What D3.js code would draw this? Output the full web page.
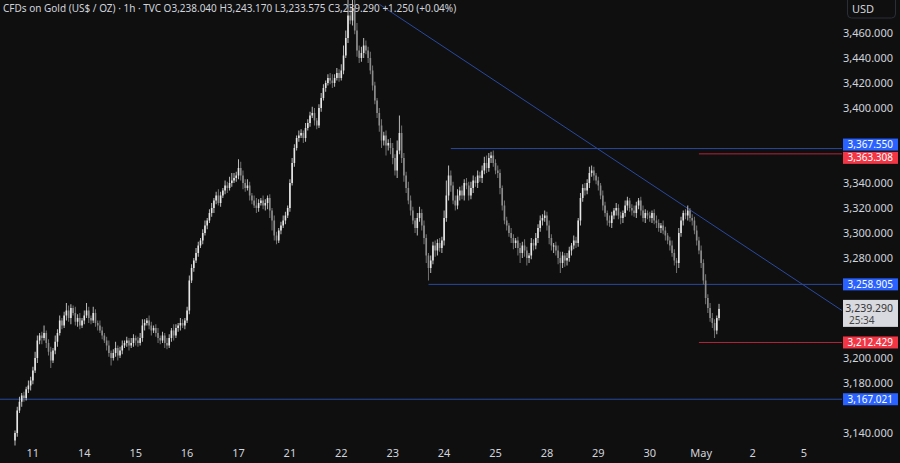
<!DOCTYPE html><html><head><meta charset="utf-8"><script src="https://cdn.jsdelivr.net/npm/d3@7"></script>
<style>body{margin:0;background:#0f0f0f}svg{display:block;font-family:"Noto Sans",Roboto,sans-serif}</style></head><body><svg id="c" width="900" height="463"></svg>
<script>
const closes=[3140,3158,3165,3170,3168,3175,3178,3182,
3190,3200,3214,3218,3216,3220,3212,3205,3198,3206,3213,3220,3230,3226,3234,3238,3232,3240,3236,3229,3232,3226,3230,
3234,3238,3232,3230,3236,3228,3226,3222,3218,3214,3210,3204,3200,3204,3208,3202,3206,3210,3212,3214,3210,3212,3216,
3214,3212,3216,3226,3228,3230,3226,3222,3224,3220,3216,3214,3218,3212,3210,3216,3222,3218,3224,3226,3228,3226,3230,
3238,3262,3272,3278,3284,3290,3294,3300,3306,3310,3316,3320,3326,3330,3324,3330,3334,3338,3336,3340,3342,3344,3346,
3352,3346,3340,3336,3338,3330,3326,3322,3320,3324,3326,3322,3324,3328,3318,3310,3298,3294,3302,3306,3310,3314,3320,
3340,3356,3368,3376,3378,3380,3376,3384,3388,3394,3396,3390,3386,3400,3408,3416,3420,3424,3422,3420,3424,3428,3424,
3430,3442,3456,3474,3470,3480,3462,3446,3440,3444,3450,3446,3440,3430,3418,3406,3396,3386,3374,3378,3370,3372,3368,
3360,3350,3366,3380,3360,3346,3336,3326,3318,3310,3304,3312,3316,3306,3296,3282,3272,3278,3290,3286,3292,3288,3294,
3312,3330,3346,3338,3326,3322,3330,3334,3330,3340,3338,3330,3336,3342,3340,3346,3344,3350,3356,3352,3360,3362,3356,
3350,3348,3336,3322,3310,3306,3300,3296,3292,3294,3288,3284,3290,3286,3280,3282,3292,3290,3296,3304,3310,3312,3314,
3306,3296,3290,3290,3286,3280,3276,3282,3278,3280,3286,3290,3294,3292,3310,3328,3336,3334,3340,3348,3350,3346,3342,
3338,3330,3322,3316,3310,3308,3314,3318,3320,3314,3312,3316,3322,3326,3320,3318,3316,3322,3326,3318,3312,3316,3314,
3312,3316,3310,3308,3304,3306,3302,3298,3294,3290,3284,3278,3276,3300,3310,3316,3314,3318,3312,3310,3302,3294,3286,
3276,3262,3248,3240,3232,3228,3222,3232,3239.29];
const wickUp=[2,3,4,2,3,2,4,3, 3,5,4,2,3,6,2,3,4,2,5,3,4,2,3,6,4,3,2,5,3,4,2, 4,6,3,2,5,3,2,4,3,2,3,4,2,3,5,2,3,4,2,3,2,4,3,
2,3,4,5,3,2,4,3,2,3,4,2,3,2,4,3,2,5,3,2,4,3,2, 3,4,3,2,4,3,2,3,4,2,3,4,2,3,5,3,2,4,3,5,6,4,3,
7,5,4,3,5,3,2,4,6,3,2,4,3,2,3,2,4,3,2,3,4,3,2, 3,4,3,2,4,3,2,4,3,3,5,4,2,3,4,3,2,3,4,5,3,4,3,
5,8,6,20,8,14,12,6,4,5,6,4,3,5,4,3,2,4,5,3,4,3,4, 4,3,8,14,6,4,3,5,4,3,2,4,5,3,4,3,2,4,3,4,3,4,3,
6,12,8,4,3,4,5,3,4,3,4,3,5,4,3,4,3,4,5,6,4,3,4, 3,4,3,2,4,3,2,4,3,2,3,4,3,5,3,2,4,3,4,3,4,3,4,
3,4,3,2,3,4,5,3,2,4,3,2,4,3,2,4,3,4,3,5,4,3,2, 3,2,4,3,2,4,3,2,4,3,3,2,4,3,2,3,4,3,2,3,4,3,2,
3,2,3,4,3,2,4,3,2,3,4,3,2,4,3,2,3,4,2,3,3,4,3, 4,3,5,3,4,4,3,2,4];
const wickDn=[4,3,2,4,3,2,3,4, 3,2,4,3,5,2,4,3,6,2,3,4,2,3,2,4,3,5,2,3,4,3,2, 3,2,4,3,2,3,4,2,3,2,4,3,6,2,3,4,2,3,2,3,4,2,3,
4,3,2,3,4,2,3,4,2,3,4,3,2,4,3,2,3,4,2,3,4,2,3, 2,3,2,3,2,3,2,3,2,3,2,3,4,3,2,3,2,3,4,2,3,2,3,
3,4,5,3,2,4,3,2,4,3,2,3,4,5,6,8,4,3,2,3,2,3,2, 3,2,3,2,3,2,4,3,2,3,2,4,3,2,3,2,3,2,3,4,3,2,3,
2,3,2,4,3,4,3,5,4,3,4,3,4,3,4,3,4,5,6,4,8,4,5, 5,4,6,3,4,5,4,3,4,3,4,6,3,4,5,6,10,4,3,5,4,3,4,
4,3,4,5,3,4,3,4,3,4,3,4,3,4,3,4,3,4,3,4,3,4,3, 3,4,5,4,3,4,3,4,5,4,6,8,4,5,6,4,3,4,3,4,3,4,3,
4,5,4,6,4,5,8,4,5,4,3,4,3,4,3,4,3,4,3,4,3,4,3, 4,3,4,3,4,3,4,3,4,3,5,4,3,4,3,4,3,4,3,4,3,4,3,
3,4,3,4,3,4,3,4,3,4,3,4,8,4,3,4,3,4,3,4,3,4,3, 4,3,5,4,3,4,6,3,2];
const tickValues=[3140,3160,3180,3200,3220,3240,3260,3280,3300,3320,3340,3360,3380,3400,3420,3440,3460];
const dateIdx=[8,31,54,77,100,123,146,169,192,215,238,261,284,307,330,353];
const dateLabels=["11","14","15","16","17","21","22","23","24","25","28","29","30","May","2","5"];
const levels=[{p:3367.55,c:"#2962ff",dy:-4},{p:3363.308,c:"#f23645",dy:4},{p:3258.905,c:"#2962ff",dy:0},{p:3212.429,c:"#f23645",dy:0},{p:3167.021,c:"#2962ff",dy:0}];
const lastPrice=3239.29;

const svg=d3.select("#c"),W=842;
const y=d3.scaleLinear().domain([3140,3460]).range([433,33]);
const x=d3.scaleLinear().domain([0,1]).range([15,17.235]);
const plot=svg.append("g");
plot.append("rect").attr("width",900).attr("height",463).attr("fill","#0f0f0f");
const blue="#2a4aa0";
plot.append("line").attr("x1",0).attr("x2",W).attr("y1",y(3167.021)).attr("y2",y(3167.021)).attr("stroke",blue);
plot.append("line").attr("x1",x(195)).attr("x2",W).attr("y1",y(3367.55)).attr("y2",y(3367.55)).attr("stroke",blue);
plot.append("line").attr("x1",x(185)).attr("x2",W).attr("y1",y(3258.905)).attr("y2",y(3258.905)).attr("stroke",blue);
plot.append("line").attr("x1",x(306)).attr("x2",W).attr("y1",y(3363.308)).attr("y2",y(3363.308)).attr("stroke","#b3263a");
plot.append("line").attr("x1",x(306)).attr("x2",W).attr("y1",y(3212.429)).attr("y2",y(3212.429)).attr("stroke","#b3263a");
plot.append("line").attr("x1",x(163)).attr("y1",y(3483)).attr("x2",W).attr("y2",y(3238)).attr("stroke",blue);
const cg=plot.append("g");
closes.forEach((c,i)=>{
  const o=i?closes[i-1]:c-6, up=c>=o;
  const hi=Math.max(o,c)+wickUp[i], lo=Math.min(o,c)-wickDn[i];
  const col=up?"#e6e6e6":"#8c8c8c", cx=x(i);
  cg.append("line").attr("x1",cx).attr("x2",cx).attr("y1",y(hi)).attr("y2",y(lo)).attr("stroke",col).attr("stroke-width",0.8);
  const t=y(Math.max(o,c)),b=y(Math.min(o,c));
  cg.append("rect").attr("x",cx-0.8).attr("width",1.6).attr("y",t).attr("height",Math.max(1,b-t)).attr("fill",col);
});
const ax=svg.append("g").attr("font-size",11).attr("fill","#d1d4dc");
ax.append("rect").attr("x",W).attr("width",58).attr("height",463).attr("fill","#0f0f0f");
const blocked=levels.map(l=>y(l.p)+l.dy).concat([y(lastPrice)+4]);
ax.selectAll("t").data(tickValues.filter(d=>blocked.every(b=>Math.abs(y(d)-b)>14)))
  .join("text").attr("x",893).attr("y",d=>y(d)+4).attr("text-anchor","end").text(d3.format(",.3f"));
ax.selectAll("d").data(dateIdx).join("text").attr("x",(d,i)=>x(d)).attr("y",457).attr("text-anchor","middle").text((d,i)=>dateLabels[i]);
ax.append("rect").attr("x",847.5).attr("y",-4).attr("width",48).attr("height",22).attr("rx",4).attr("fill","none").attr("stroke","#2a2e39");
ax.append("text").attr("x",852).attr("y",13).text("USD");
levels.forEach(l=>{
  const cy=y(l.p)+l.dy;
  ax.append("rect").attr("x",843).attr("y",cy-6).attr("width",55).attr("height",12).attr("fill",l.c);
  ax.append("text").attr("x",893).attr("y",cy+3.5).attr("text-anchor","end").attr("fill","#fff").attr("font-size",10).text(d3.format(",.3f")(l.p));
});
const ly=y(lastPrice);
ax.append("rect").attr("x",843).attr("y",ly-9).attr("width",55).attr("height",27).attr("fill","#d9dadf");
ax.append("text").attr("x",893).attr("y",ly+3).attr("text-anchor","end").attr("fill","#333").attr("font-size",10.5).text(d3.format(",.3f")(lastPrice));
ax.append("text").attr("x",849).attr("y",ly+15.5).attr("fill","#444").attr("font-size",10).text("25:34");
svg.append("text").attr("x",3).attr("y",12).attr("font-size",10).attr("fill","#d1d4dc").text("CFDs on Gold (US$ / OZ) · 1h · TVC  O3,238.040  H3,243.170  L3,233.575  C3,239.290  +1.250 (+0.04%)");
</script></body></html>
